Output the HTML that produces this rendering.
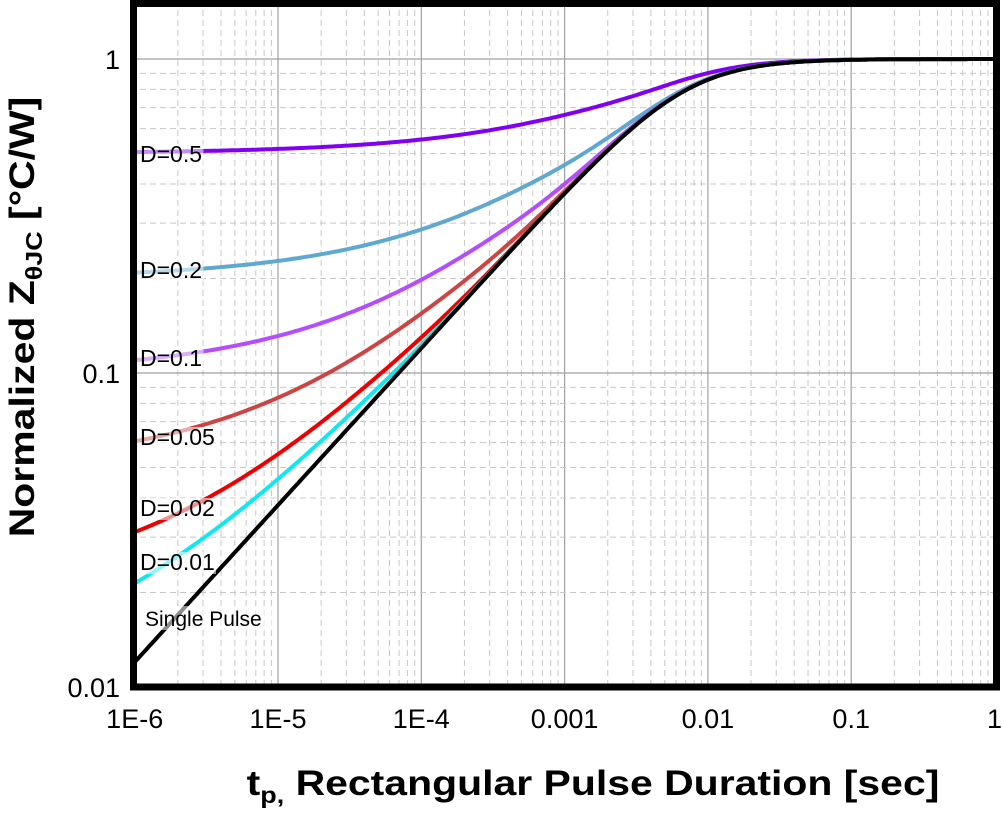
<!DOCTYPE html>
<html><head><meta charset="utf-8"><style>
html,body{margin:0;padding:0;background:#fff;}
svg{display:block;font-family:"Liberation Sans",sans-serif;}
</style></head><body>
<svg id="s" width="1002" height="813" viewBox="0 0 1002 813" xmlns="http://www.w3.org/2000/svg">
<g id="grid"></g>
<g id="curves" fill="none" stroke-width="4" stroke-linecap="round"></g>
<g id="labels" font-size="23" fill="#000"></g>
<rect x="133.5" y="3.5" width="863" height="683.5" fill="none" stroke="#000" stroke-width="7"/>
<g font-size="27" fill="#000" text-anchor="end">
<text x="120" y="69">1</text>
<text x="120" y="383">0.1</text>
<text x="120" y="697">0.01</text>
</g>
<g font-size="27" fill="#000" text-anchor="middle" id="xt"></g>
<g transform="translate(593,795) scale(1.17,1)">
<text x="0" y="0" font-size="35" font-weight="bold" text-anchor="middle">t<tspan font-size="23" dy="8">p,</tspan><tspan dy="-8"> Rectangular Pulse Duration [sec]</tspan></text>
</g>
<g transform="translate(34,317) rotate(-90) scale(1.17,1)">
<text x="0" y="0" font-size="35" font-weight="bold" text-anchor="middle">Normalized Z<tspan font-size="23" dy="8">θJC</tspan><tspan dy="-8"> [°C/W]</tspan></text>
</g>
</svg>
<script>
var NS="http://www.w3.org/2000/svg";
function X(t){return 134.7+143.3*(Math.log10(t)+6);}
function Y(z){return 59-314*Math.log10(z);}
function el(p,tag,a){var e=document.createElementNS(NS,tag);for(var k in a)e.setAttribute(k,a[k]);p.appendChild(e);return e;}
var g=document.getElementById('grid');
for(var d=-6;d<0;d++){for(var m=1;m<10;m++){var x=X(m*Math.pow(10,d));
 if(m==1)el(g,'line',{x1:x,x2:x,y1:0,y2:690,stroke:'#a0a0a0','stroke-width':1.2});
 else el(g,'line',{x1:x,x2:x,y1:0,y2:690,stroke:'#c8c8c8','stroke-width':1,'stroke-dasharray':'6,4'});}}
for(var d=-2;d<1;d++){for(var m=1;m<10;m++){var y=Y(m*Math.pow(10,d));if(y<0)continue;
 if(m==1)el(g,'line',{x1:130,x2:1000,y1:y,y2:y,stroke:'#a0a0a0','stroke-width':1.2});
 else el(g,'line',{x1:130,x2:1000,y1:y,y2:y,stroke:'#c8c8c8','stroke-width':1,'stroke-dasharray':'6,4'});}}
function zsp(t){var a=12*Math.sqrt(t);return Math.pow(1/(Math.pow(a,-3)+1),1/3);}
function zd(t,D){if(D==0)return zsp(t);var T=t/D;return D+(1-D)*zsp(T+t)-zsp(T)+zsp(t);}
var cs=[[0.5,'#8000f0'],[0.2,'#5fa8d0'],[0.1,'#b44cff'],[0.05,'#cc4444'],[0.02,'#ee0000'],[0.01,'#10e8f0'],[0,'#000']];
var cg=document.getElementById('curves');
cs.forEach(function(c){var D=c[0],p='';for(var i=0;i<=300;i++){var lt=-6+6*i/300,t=Math.pow(10,lt);var z=zd(t,D);p+=(i?'L':'M')+X(t).toFixed(1)+','+Y(z).toFixed(1);}
 el(cg,'path',{d:p,stroke:c[1]});});
var lg=document.getElementById('labels');
[['D=0.5',162],['D=0.2',278],['D=0.1',366],['D=0.05',445],['D=0.02',516],['D=0.01',570]].forEach(function(l){
 var w=l[0].length*12.5+4;el(lg,'rect',{x:137,y:l[1]-18,width:w,height:22,fill:'#fff','fill-opacity':0.55});
 el(lg,'text',{x:140,y:l[1]}).textContent=l[0];});
el(lg,'rect',{x:142,y:606,width:134,height:24,fill:'#fff','fill-opacity':0.55});
el(lg,'text',{x:145,y:626,'font-size':21}).textContent='Single Pulse';
var xt=document.getElementById('xt');
['1E-6','1E-5','1E-4','0.001','0.01','0.1','1'].forEach(function(s,i){el(xt,'text',{x:X(Math.pow(10,i-6)),y:728}).textContent=s;});
</script>
</body></html>
